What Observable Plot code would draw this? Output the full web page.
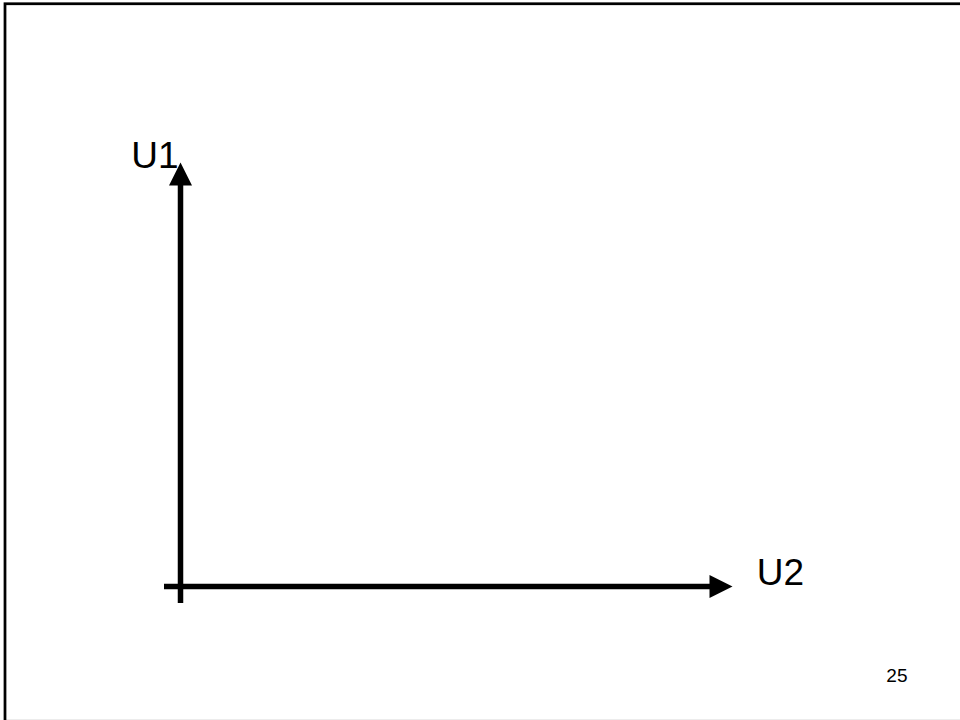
<!DOCTYPE html>
<html>
<head>
<meta charset="utf-8">
<script src="https://cdn.jsdelivr.net/npm/d3@7"></script>
<script src="https://cdn.jsdelivr.net/npm/@observablehq/plot@0.6"></script>
<style>
  html, body { margin: 0; padding: 0; background: #fff; overflow: hidden; }
  #chart svg { display: block; }
</style>
</head>
<body>
<div id="chart"></div>
<script>
// Axis names and which direction each points
const axisLabels = ["U2", "U1"];
const axisDirections = ["x", "y"];
// Slide page number
const pageNumber = ["25"];

// px-to-unit helpers for the fixed scales below
const pxX = 1 / 552, pxY = 1 / 424;
const headLen = 23, headHalf = 11.5, overshoot = 16.5;

const shafts = [];
const heads = [];
axisLabels.forEach((name, i) => {
  if (axisDirections[i] === "x") {
    shafts.push({id: name, x: -overshoot * pxX, y: 0});
    shafts.push({id: name, x: 1 - headLen * pxX + 1 * pxX, y: 0});
    heads.push({id: name, x: 1, y: 0});
    heads.push({id: name, x: 1 - headLen * pxX, y: headHalf * pxY});
    heads.push({id: name, x: 1 - headLen * pxX, y: -headHalf * pxY});
  } else {
    shafts.push({id: name, x: 0, y: -overshoot * pxY});
    shafts.push({id: name, x: 0, y: 1 - headLen * pxY + 1 * pxY});
    heads.push({id: name, x: 0, y: 1});
    heads.push({id: name, x: -headHalf * pxX, y: 1 - headLen * pxY});
    heads.push({id: name, x: headHalf * pxX, y: 1 - headLen * pxY});
  }
});

const labels = axisLabels.map((name, i) => ({
  name,
  x: axisDirections[i] === "x" ? 1 : 0,
  y: axisDirections[i] === "x" ? 0 : 1,
  dir: axisDirections[i]
}));

const chart = Plot.plot({
  width: 960,
  height: 720,
  marginLeft: 4.5,
  marginTop: 3.25,
  marginRight: -10,
  marginBottom: -0.8,
  style: {background: "#fff", fontFamily: "'Liberation Sans', Arial, sans-serif", color: "#000"},
  x: {domain: [0, 1], range: [180, 732], axis: null},
  y: {domain: [0, 1], range: [586, 162], axis: null},
  marks: [
    Plot.frame({stroke: "#000", strokeWidth: 2.75, fill: "none"}),
    Plot.line(shafts, {x: "x", y: "y", z: "id", stroke: "#000", strokeWidth: 5.5, strokeLinecap: "butt"}),
    Plot.line(heads, {x: "x", y: "y", z: "id", fill: "#000", stroke: "none", curve: "linear-closed"}),
    Plot.text(labels.filter(d => d.dir === "y"), {
      x: "x", y: "y", text: "name", fontSize: 37, textAnchor: "end", lineAnchor: "middle",
      dx: -1.9, dy: -6.1, fill: "#000"
    }),
    Plot.text(labels.filter(d => d.dir === "x"), {
      x: "x", y: "y", text: "name", fontSize: 37, textAnchor: "start", lineAnchor: "middle",
      dx: 24.3, dy: -13.1, fill: "#000"
    }),
    Plot.text(pageNumber, {
      text: d => d, frameAnchor: "bottom-right", fontSize: 19, textAnchor: "end", lineAnchor: "middle",
      dx: -63, dy: -45, fill: "#000"
    })
  ]
});
document.getElementById("chart").appendChild(chart);
</script>
</body>
</html>
